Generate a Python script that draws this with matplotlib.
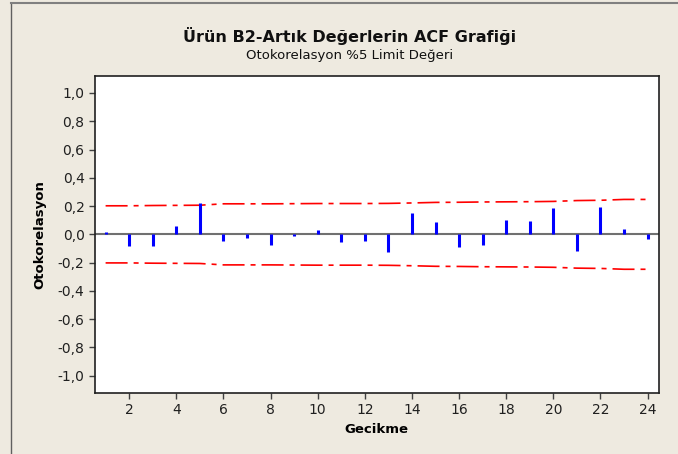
import matplotlib.pyplot as plt
from matplotlib.lines import Line2D

lags = list(range(1, 25))
acf = [0.02, -0.085, -0.085, 0.06, 0.225, -0.05, -0.026, -0.077, -0.01, 0.029,
       -0.056, -0.049, -0.125, 0.153, 0.085, -0.092, -0.075, 0.101, 0.092, 0.183,
       -0.115, 0.192, 0.035, -0.035]
limit = [0.202, 0.202, 0.204, 0.205, 0.206, 0.216, 0.216, 0.216, 0.217, 0.218,
         0.218, 0.218, 0.219, 0.222, 0.226, 0.227, 0.229, 0.230, 0.231, 0.233,
         0.239, 0.241, 0.247, 0.247]
yticks = [-1.0, -0.8, -0.6, -0.4, -0.2, 0.0, 0.2, 0.4, 0.6, 0.8, 1.0]
xticks = list(range(2, 25, 2))

bg = '#eeeae0'
fig = plt.figure(figsize=(6.78, 4.54), dpi=100, facecolor=bg)
ax = fig.add_axes([95 / 678, 1 - 392.7 / 454, (658.7 - 95) / 678, (392.7 - 76) / 454])

# outer frame (left and top only, rest is cropped)
fig.add_artist(Line2D([11 / 678, 11 / 678], [0, 1 - 3 / 454], transform=fig.transFigure,
                      color='#606060', lw=1))
fig.add_artist(Line2D([11 / 678, 1], [1 - 3 / 454, 1 - 3 / 454], transform=fig.transFigure,
                      color='#808080', lw=1.5))

ax.axhline(0, color='#707070', lw=1.5, zorder=1)
ax.vlines(lags, 0, acf, color='#0000ff', lw=2.2, zorder=3)
dash = (0, (13.2, 3.6, 3.0, 3.6))
ax.plot(lags, limit, color='#ff0000', lw=1.2, linestyle=dash, zorder=2)
ax.plot(lags, [-v for v in limit], color='#ff0000', lw=1.2, linestyle=dash, zorder=2)

ax.set_xlim(0.55, 24.47)
ax.set_ylim(-1.12, 1.12)
ax.set_xticks(xticks)
ax.set_yticks(yticks)
ax.set_yticklabels([f'{v:.1f}'.replace('.', ',') for v in yticks])
ax.tick_params(direction='out', length=4, width=1, color='#404040',
               labelsize=10, labelcolor='#202020')
for s in ax.spines.values():
    s.set_color('#202020')
    s.set_linewidth(1.2)

ax.set_xlabel('Gecikme', fontsize=9.5, fontweight='bold', labelpad=4)
ax.set_ylabel('Otokorelasyon', fontsize=9.5, fontweight='bold', labelpad=8)

fig.text(0.515, 1 - 36 / 454, 'Ürün B2-Artık Değerlerin ACF Grafiği', ha='center', va='center',
         fontsize=11.5, fontweight='bold', color='#101010')
fig.text(0.515, 1 - 55 / 454, 'Otokorelasyon %5 Limit Değeri', ha='center', va='center',
         fontsize=9.5, color='#101010')

plt.savefig('out.png', dpi=100, facecolor=bg)
